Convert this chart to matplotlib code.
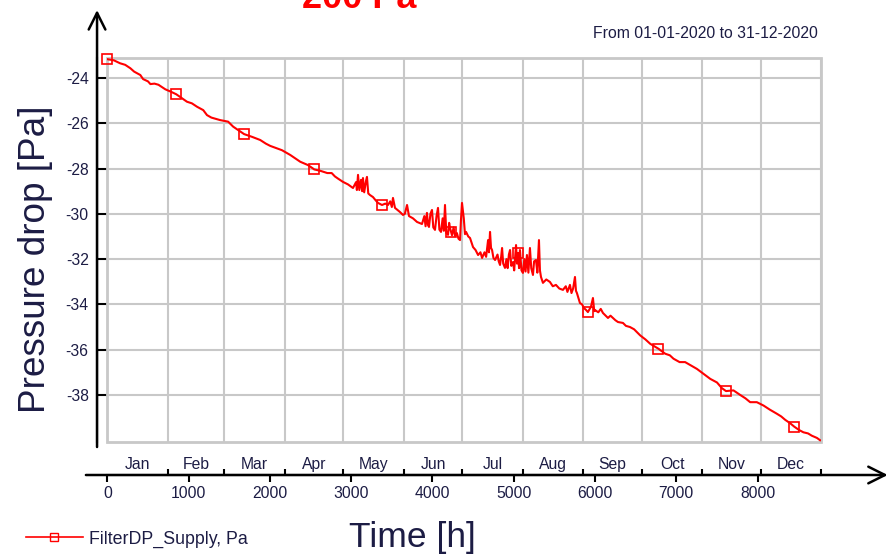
import matplotlib
matplotlib.use("Agg")
import matplotlib.pyplot as plt
from matplotlib.lines import Line2D
from matplotlib.patches import Rectangle

plt.rcParams['font.family'] = ['Liberation Sans', 'DejaVu Sans']

# data (hours since 01-01-2020, Pa)
# Jan - May: smooth decline
early_hours = [0, 80, 156, 220, 283, 330, 406, 440, 500, 530,
               580, 629, 713, 790, 848, 920, 980, 1040, 1103, 1180,
               1226, 1280, 1330, 1387, 1486, 1548, 1610, 1683, 1780, 1881,
               1950, 2004, 2080, 2148, 2250, 2300, 2373, 2470, 2546, 2620,
               2706, 2760, 2800, 2840]
early_values = [-23.17, -23.22, -23.35, -23.42, -23.57, -23.72, -23.87, -24.05, -24.15, -24.27,
                -24.25, -24.30, -24.50, -24.62, -24.72, -24.90, -25.05, -25.12, -25.27, -25.42,
                -25.64, -25.75, -25.80, -25.86, -25.93, -26.15, -26.30, -26.48, -26.60, -26.74,
                -26.90, -27.00, -27.10, -27.19, -27.40, -27.52, -27.70, -27.85, -28.04, -28.10,
                -28.20, -28.20, -28.35, -28.45]

# May - Sep: noisy part with spikes
mid_hours = [2899, 2960, 3022, 3060, 3070, 3084, 3100, 3121, 3135, 3145,
             3160, 3182, 3194, 3210, 3231, 3268, 3300, 3330, 3379, 3420,
             3453, 3480, 3500, 3514, 3539, 3600, 3637, 3660, 3687, 3711,
             3760, 3810, 3871, 3900, 3915, 3932, 3945, 3957, 3975, 3994,
             4010, 4031, 4050, 4068, 4085, 4105, 4125, 4140, 4154, 4170,
             4191, 4205, 4216, 4240, 4260, 4277, 4300, 4320, 4339, 4350,
             4363, 4372, 4385, 4400, 4413, 4440, 4462, 4499, 4530, 4561,
             4590, 4610, 4640, 4660, 4684, 4695, 4708, 4720, 4733, 4750,
             4770, 4800, 4815, 4831, 4845, 4856, 4870, 4892, 4910, 4925,
             4940, 4954, 4970, 4991, 5005, 5028, 5040, 5052, 5065, 5076,
             5095, 5113, 5130, 5145, 5162, 5180, 5199, 5215, 5236, 5250,
             5273, 5290, 5310, 5322, 5335, 5359, 5400, 5445, 5480, 5519,
             5560, 5605, 5640, 5660, 5691, 5710, 5730, 5753, 5765, 5777,
             5814, 5840, 5863, 5890, 5912, 5950, 5974, 5990, 5999, 6040,
             6070, 6097, 6130, 6159, 6190, 6220, 6250, 6282, 6343, 6380]
mid_values = [-28.59, -28.70, -28.86, -28.60, -28.95, -28.28, -28.95, -28.50, -29.00, -28.42,
              -29.05, -28.55, -28.37, -29.10, -29.17, -29.26, -29.40, -29.52, -29.61, -29.55,
              -29.61, -29.45, -29.70, -29.30, -29.74, -29.92, -30.05, -30.00, -29.61, -30.10,
              -30.20, -30.36, -30.45, -30.10, -30.55, -29.96, -30.50, -30.58, -30.00, -29.83,
              -30.60, -30.71, -30.10, -29.74, -30.70, -30.80, -30.20, -30.75, -29.61, -30.85,
              -30.93, -30.40, -30.63, -30.95, -30.60, -30.98, -30.85, -31.10, -31.16, -30.30,
              -29.52, -29.80, -30.20, -30.90, -30.80, -31.00, -31.07, -31.47, -31.60, -31.82,
              -31.70, -31.95, -31.70, -31.90, -31.16, -31.70, -30.80, -31.50, -31.60, -31.95,
              -32.04, -31.80, -32.10, -32.26, -31.90, -31.51, -32.20, -32.39, -32.00, -32.40,
              -31.80, -31.60, -32.30, -32.13, -32.50, -31.38, -32.20, -31.73, -32.40, -31.60,
              -32.50, -32.61, -32.00, -32.55, -31.82, -32.60, -31.51, -32.40, -32.70, -32.10,
              -32.04, -32.60, -31.16, -32.50, -32.79, -33.05, -32.90, -33.01, -33.20, -33.14,
              -33.30, -33.36, -33.20, -33.45, -33.14, -33.50, -33.30, -32.79, -33.40, -33.50,
              -33.94, -34.00, -34.16, -34.25, -34.34, -34.10, -33.72, -34.30, -34.25, -34.35,
              -34.20, -34.38, -34.50, -34.60, -34.50, -34.60, -34.70, -34.78, -34.82, -34.95]

# Sep - Dec: smooth decline again
late_hours = [6429, 6480, 6555, 6620, 6678, 6780, 6863, 6920, 6965, 7040,
              7108, 7180, 7253, 7335, 7417, 7500, 7560, 7611, 7703, 7785,
              7850, 7908, 7990, 8073, 8150, 8236, 8290, 8339, 8400, 8450,
              8510, 8563, 8620, 8666, 8730, 8768]
late_values = [-35.00, -35.10, -35.37, -35.55, -35.74, -35.96, -36.18, -36.25, -36.40, -36.55,
               -36.55, -36.70, -36.85, -37.07, -37.29, -37.45, -37.70, -37.83, -37.80, -38.00,
               -38.15, -38.32, -38.32, -38.47, -38.65, -38.83, -38.95, -39.10, -39.25, -39.40,
               -39.55, -39.65, -39.70, -39.80, -39.90, -40.00]

marker_hours = [0, 848, 1683, 2546, 3379, 4230, 5052, 5912, 6780, 7611, 8450]
marker_values = [-23.17, -24.72, -26.48, -28.04, -29.61, -30.80, -31.73, -34.34,
                 -35.96, -37.83, -39.40]

month_names = ["Jan", "Feb", "Mar", "Apr", "May", "Jun",
               "Jul", "Aug", "Sep", "Oct", "Nov", "Dec"]
month_starts = [0, 744, 1440, 2184, 2904, 3648, 4368, 5112, 5856, 6576, 7320, 8040, 8784]

y_ticks = [-24, -26, -28, -30, -32, -34, -36, -38]
x_ticks = [0, 1000, 2000, 3000, 4000, 5000, 6000, 7000, 8000]

hours = early_hours + mid_hours + late_hours
values = early_values + mid_values + late_values

red = "#ff0000"
navy = "#1c1c44"
grey = "#c8c8c8"

fig = plt.figure(figsize=(8.87, 5.56), dpi=100)
ax = fig.add_axes([0.121, 0.205, 0.805, 0.6906])

ax.plot(hours, values, color=red, lw=1.5, zorder=3)
ax.plot(marker_hours, marker_values, ls="none", marker="s", ms=7.5,
        mfc="none", mec=red, mew=1.2, zorder=4, clip_on=False)

ax.set_xlim(0, 8784)
ax.set_ylim(-40.08, -23.12)

# grid box
ax.set_xticks(x_ticks)
ax.set_xticks(month_starts, minor=True)
ax.set_yticks(y_ticks)
ax.grid(False)
ax.xaxis.grid(True, which="minor", color=grey, lw=1.5)
ax.yaxis.grid(True, which="major", color=grey, lw=1.5)
ax.add_patch(Rectangle((0, 0), 1, 1, transform=ax.transAxes, fill=False,
                       ec=grey, lw=2, clip_on=False, zorder=2))
for s in ["top", "right"]:
    ax.spines[s].set_visible(False)

# detached axes lines with arrows
ax.spines["left"].set_position(("axes", -0.0144))
ax.spines["bottom"].set_position(("axes", -0.0859))
for s in ["left", "bottom"]:
    ax.spines[s].set_color("black")
    ax.spines[s].set_linewidth(1.5)

arrow = dict(arrowstyle="->,head_length=1.0,head_width=0.5", color="black",
             lw=1.8, mutation_scale=12, shrinkA=0, shrinkB=0)
ax.annotate("", xy=(-0.0144, 1.125), xytext=(-0.0144, -0.013),
            xycoords="axes fraction", arrowprops=arrow, annotation_clip=False)
ax.annotate("", xy=(1.093, -0.0859), xytext=(-0.030, -0.0859),
            xycoords="axes fraction", arrowprops=arrow, annotation_clip=False)

ax.tick_params(axis="y", which="major", direction="in", length=7, width=1.5,
               pad=6, labelsize=11.3, labelcolor=navy, color="black")
ax.tick_params(axis="x", which="major", direction="out", length=5, width=1.5,
               pad=3, labelsize=11.3, labelcolor=navy, color="black")
ax.tick_params(axis="x", which="minor", direction="in", length=4, width=1.5,
               color="black")
ax.set_yticklabels([str(v) for v in y_ticks])

# month names between the month ticks
for i, name in enumerate(month_names):
    mid = (month_starts[i] + month_starts[i + 1]) / 2
    ax.text(mid, -0.059, name, transform=ax.get_xaxis_transform(),
            ha="center", va="center", fontsize=11.3, color=navy)

fig.text(36 / 887, 1 - 259 / 556, "Pressure drop [Pa]", rotation=90,
         ha="center", va="center", fontsize=26.6, color=navy)
fig.text(412 / 887, 1 - 537 / 556, "Time [h]", ha="center", va="center",
         fontsize=25.5, color=navy)
fig.text(818 / 887, 1 - 33 / 556, "From 01-01-2020 to 31-12-2020", ha="right",
         va="center", fontsize=11.3, color=navy)
# title sits partly above the top edge, as in the source screenshot
fig.text(302 / 887, 1 - 8 / 556, "200 Pa", ha="left", va="baseline",
         fontsize=26, fontweight="bold", color=red)

handle = Line2D([], [], color=red, lw=1.2, marker="s", ms=6, mfc="none", mec=red)
fig.legend([handle], ["FilterDP_Supply, Pa"], loc="center left",
           bbox_to_anchor=(26 / 887, 1 - 539 / 556), frameon=False,
           borderpad=0, borderaxespad=0, handlelength=3.2, handletextpad=0.35,
           prop={"size": 12.8}, labelcolor=navy)

fig.savefig("out.png", dpi=100)
